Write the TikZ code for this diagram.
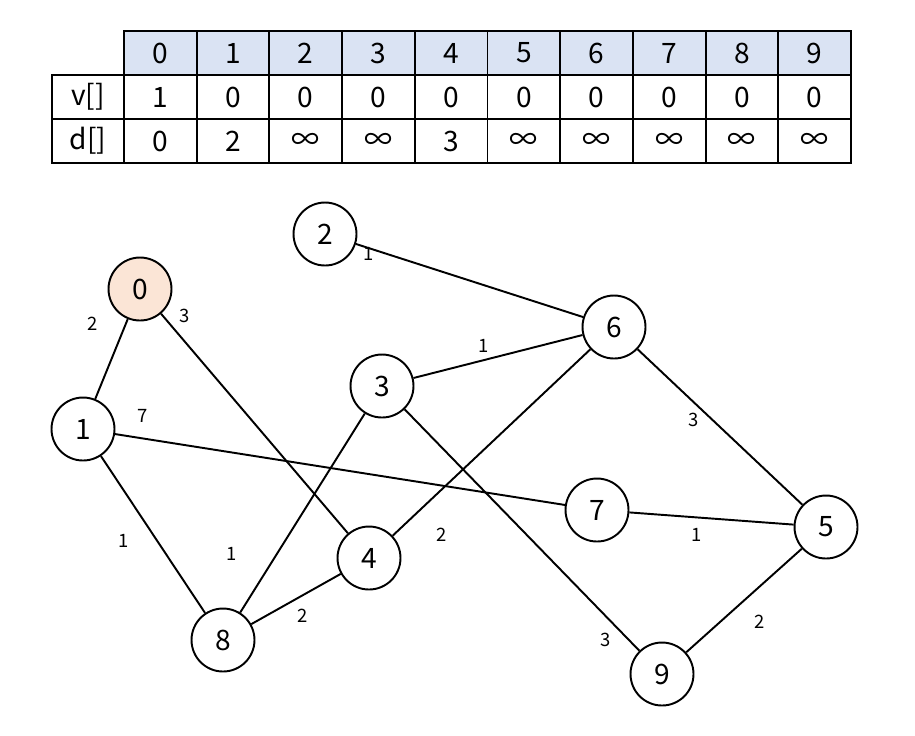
\documentclass[tikz,border=0pt]{standalone}
\usepackage{fontspec}
\setmainfont{Noto Sans CJK KR}
\usetikzlibrary{positioning}
\definecolor{headblue}{HTML}{DAE3F3}
\definecolor{startfill}{HTML}{FBE5D6}
\tikzset{
	vertex/.style={circle,draw,line width=1.1pt,minimum size=1.26cm,inner sep=0pt,font=\fontsize{16}{16}\selectfont},
	weight/.style={inner sep=1pt,font=\fontsize{10.5}{10.5}\selectfont},
	cell/.style={draw,line width=1.1pt,minimum width=1.454cm,minimum height=0.88cm,inner sep=0pt,font=\fontsize{16}{16}\selectfont},
	edge/.style={line width=1.1pt}
}
\begin{document}
\begin{tikzpicture}[x=0.02cm,y=-0.02cm]
	\useasboundingbox (0,0) rectangle (915,735);

	% table
	\node[cell,minimum width=1.44cm] (vlab) at (88,97) {v[]};
	\node[cell,minimum width=1.44cm] (dlab) at (88,141) {d[]};
	\foreach \i/\v/\d in {0/1/0,1/0/2,2/0/∞,3/0/∞,4/0/3,5/0/∞,6/0/∞,7/0/∞,8/0/∞,9/0/∞}{
		\node[cell,fill=headblue] (h\i) at ({160.35+72.7*\i},53) {\i};
		\node[cell] (v\i) at ({160.35+72.7*\i},97) {\v};
		\node[cell] (d\i) at ({160.35+72.7*\i},141) {\d};
	}

	% vertices
	\node[vertex,fill=startfill] (n0) at (140,289) {0};
	\node[vertex] (n1) at (83,429) {1};
	\node[vertex] (n2) at (325,234) {2};
	\node[vertex] (n3) at (382,386) {3};
	\node[vertex] (n4) at (369,558) {4};
	\node[vertex] (n5) at (826,527) {5};
	\node[vertex] (n6) at (614,327) {6};
	\node[vertex] (n7) at (597,510) {7};
	\node[vertex] (n8) at (223,640) {8};
	\node[vertex] (n9) at (662,674) {9};

	% edges
	\draw[edge] (n0) -- (n1);
	\draw[edge] (n0) -- (n4);
	\draw[edge] (n1) -- (n7);
	\draw[edge] (n1) -- (n8);
	\draw[edge] (n2) -- (n6);
	\draw[edge] (n3) -- (n6);
	\draw[edge] (n3) -- (n8);
	\draw[edge] (n3) -- (n9);
	\draw[edge] (n4) -- (n6);
	\draw[edge] (n4) -- (n8);
	\draw[edge] (n6) -- (n5);
	\draw[edge] (n7) -- (n5);
	\draw[edge] (n9) -- (n5);

	% weights
	\node[weight] (w01) at (93,324) {2};
	\node[weight] (w04) at (185,316) {3};
	\node[weight] (w17) at (143,416) {7};
	\node[weight] (w18) at (124,541) {1};
	\node[weight] (w26) at (369,254) {1};
	\node[weight] (w36) at (484,346) {1};
	\node[weight] (w38) at (232,554) {1};
	\node[weight] (w39) at (606,640) {3};
	\node[weight] (w46) at (442,535) {2};
	\node[weight] (w48) at (303,616) {2};
	\node[weight] (w65) at (694,420) {3};
	\node[weight] (w75) at (697,535) {1};
	\node[weight] (w95) at (760,622) {2};
\end{tikzpicture}
\end{document}
